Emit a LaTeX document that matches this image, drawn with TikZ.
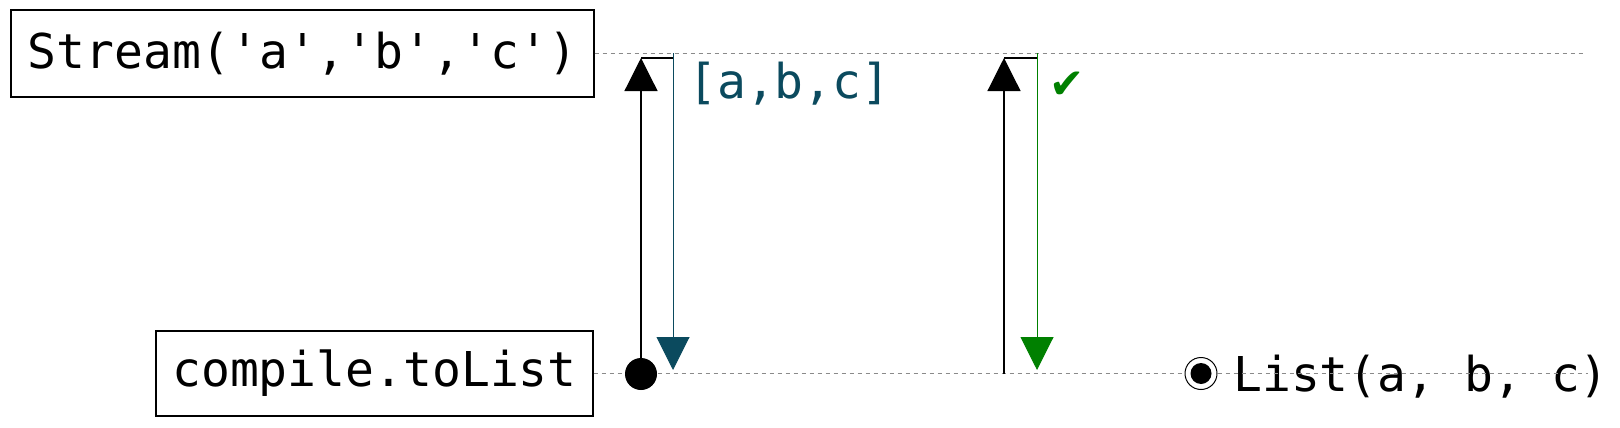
\documentclass[tikz,border=0pt]{standalone}
\usepackage{fontspec}
\setmonofont{DejaVu Sans Mono}
\newfontfamily\symfont{DejaVu Sans}
\usetikzlibrary{arrows.meta}
\definecolor{tealres}{HTML}{0B4A5E}
\definecolor{okgreen}{HTML}{008000}
\definecolor{lifegray}{HTML}{8A8A8A}
\begin{document}
\begin{tikzpicture}[x=1pt,y=-1pt,
  obj/.style={draw=black, line width=1.2pt, font=\ttfamily\fontsize{48}{56}\selectfont, inner sep=0pt, anchor=center},
  life/.style={draw=lifegray, dash pattern=on 4pt off 4pt, line width=1pt},
  msg/.style={line width=1.2pt, -{Triangle[width=33pt,length=33pt]}},
  link/.style={line width=1.2pt},
  lbl/.style={font=\ttfamily\fontsize{48}{56}\selectfont, inner sep=0pt}]
\useasboundingbox (0,0) rectangle (1620,428);
% objects
\node[obj, minimum width=583pt, minimum height=87pt] (stream) at (302.5,53.5) {Stream('a','b','c')};
\node[obj, minimum width=437pt, minimum height=85pt] (compile) at (374.5,373.5) {compile.toList};
% final result text
\node[lbl, anchor=base west] (result) at (1233,391) {List(a, b, c)};
% lifelines
\coordinate (topend) at (1586,53.5);
\coordinate (botend) at (1588,373.5);
\draw[life] (stream.east) -- (topend);
\draw[life] (compile.east) -- (botend);
% first exchange
\node[circle, fill=black, minimum size=32pt, inner sep=0pt] (src) at (641,374) {};
\coordinate (a1top) at (641,58);
\coordinate (a1turn) at (673,58);
\coordinate (r1top) at (673,53.5);
\coordinate (r1end) at (673,370);
\draw[msg] (src.center) -- (a1top);
\draw[link] (a1top) -- (a1turn);
\draw[msg, tealres, line width=1pt] (r1top) -- (r1end);
\node[lbl, text=tealres, anchor=west] (res1) at (688,84) {[a,b,c]};
% second exchange
\coordinate (s2) at (1004,374);
\coordinate (a2top) at (1004,58);
\coordinate (a2turn) at (1037,58);
\coordinate (r2top) at (1037,53.5);
\coordinate (r2end) at (1037,370);
\draw[msg] (s2) -- (a2top);
\draw[link] (a2top) -- (a2turn);
\draw[msg, okgreen, line width=1pt] (r2top) -- (r2end);
\node[font=\symfont\fontsize{42}{42}\selectfont, text=okgreen, inner sep=0pt] (ok) at (1067,85) {✔};
% end marker
\node[circle, draw=black, fill=white, line width=1pt, minimum size=32pt, inner sep=0pt] (done) at (1201,373.5) {};
\node[circle, fill=black, minimum size=21pt, inner sep=0pt] (donedot) at (done.center) {};
\end{tikzpicture}
\end{document}
